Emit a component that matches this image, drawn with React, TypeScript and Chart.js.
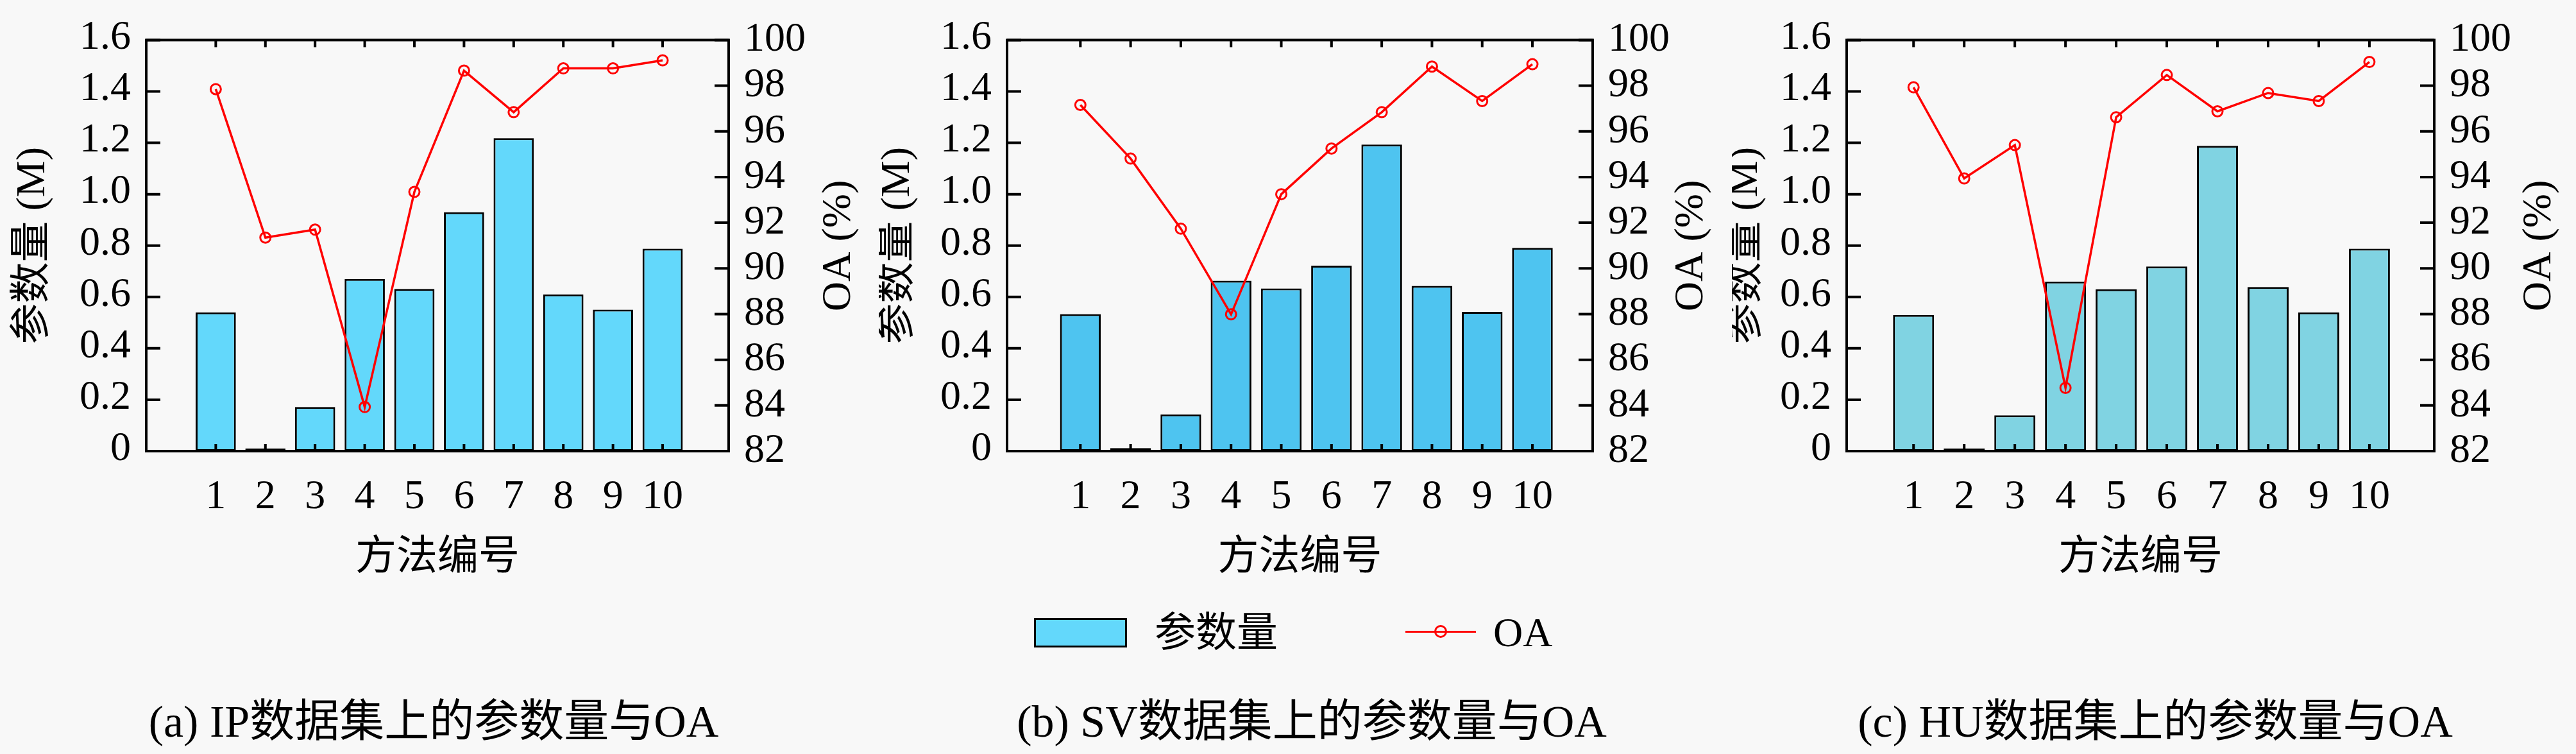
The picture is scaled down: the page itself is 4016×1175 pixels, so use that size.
import React, { useEffect, useRef } from 'react';
import { Chart, registerables } from 'chart.js';

Chart.register(...registerables);

// ---------------- data ----------------
const methods = [1, 2, 3, 4, 5, 6, 7, 8, 9, 10];
const methodLabels = ['1', '2', '3', '4', '5', '6', '7', '8', '9', '10'];

const paramsIP = [0.54, 0.01, 0.172, 0.67, 0.631, 0.93, 1.218, 0.61, 0.551, 0.788];
const oaIP = [97.85, 91.35, 91.7, 83.93, 93.35, 98.66, 96.84, 98.76, 98.76, 99.11];

const paramsSV = [0.533, 0.012, 0.143, 0.663, 0.633, 0.722, 1.193, 0.643, 0.542, 0.791];
const oaSV = [97.16, 94.81, 91.74, 87.99, 93.25, 95.25, 96.84, 98.84, 97.33, 98.94];

const paramsHU = [0.53, 0.01, 0.139, 0.66, 0.63, 0.719, 1.188, 0.639, 0.54, 0.788];
const oaHU = [97.93, 93.94, 95.4, 84.77, 96.62, 98.47, 96.88, 97.68, 97.33, 99.04];

const leftTicks = [0, 0.2, 0.4, 0.6, 0.8, 1.0, 1.2, 1.4, 1.6];
const leftTickLabels = ['0', '0.2', '0.4', '0.6', '0.8', '1.0', '1.2', '1.4', '1.6'];
const rightTicks = [82, 84, 86, 88, 90, 92, 94, 96, 98, 100];
const rightTickLabels = ['82', '84', '86', '88', '90', '92', '94', '96', '98', '100'];

const barLabel = '参数量';
const lineLabel = 'OA';
const leftTitle = '参数量 (M)';
const rightTitle = 'OA (%)';
const xTitle = '方法编号';
const captions = [
  '(a) IP数据集上的参数量与OA',
  '(b) SV数据集上的参数量与OA',
  '(c) HU数据集上的参数量与OA',
];

// ---------------- style / layout ----------------
const FONT = '"Liberation Serif", "Noto Sans CJK SC", serif';
const BG = '#f8f8f8';
const CANVAS_H = 940;
const PLOT_TOP = 53;
const PLOT_BOTTOM = 703;

const panels = [
  { canvasLeft: 0, canvasWidth: 1370, plotLeft: 228, plotRight: 1136, xMin: -0.4, xMax: 11.33, color: '#63d8fb', offL: 176, offR: 172, params: paramsIP, oa: oaIP },
  { canvasLeft: 1370, canvasWidth: 1330, plotLeft: 1570, plotRight: 2483, xMin: -0.46, xMax: 11.2, color: '#4ec4f0', offL: 170, offR: 154, params: paramsSV, oa: oaSV },
  { canvasLeft: 2700, canvasWidth: 1316, plotLeft: 2879, plotRight: 3795, xMin: -0.32, xMax: 11.28, color: '#80d3e2', offL: 157, offR: 164, params: paramsHU, oa: oaHU },
];

const captionCenters = [676, 2045, 3360];

const framePlugin = {
  id: 'frame',
  afterDraw(chart: any, _args: any, opts: any) {
    const { ctx, chartArea: a, scales } = chart;
    ctx.save();
    ctx.strokeStyle = '#000';
    ctx.lineWidth = 4;
    ctx.lineCap = 'butt';
    ctx.beginPath();
    scales.y.ticks.forEach((t: any) => {
      const p = scales.y.getPixelForValue(t.value);
      ctx.moveTo(a.left, p);
      ctx.lineTo(a.left + 22, p);
    });
    scales.y2.ticks.forEach((t: any) => {
      const p = scales.y2.getPixelForValue(t.value);
      ctx.moveTo(a.right, p);
      ctx.lineTo(a.right - 22, p);
    });
    scales.x.ticks.forEach((t: any) => {
      const p = scales.x.getPixelForValue(t.value);
      ctx.moveTo(p, a.top);
      ctx.lineTo(p, a.top + 11);
      ctx.moveTo(p, a.bottom);
      ctx.lineTo(p, a.bottom - 11);
    });
    ctx.stroke();
    ctx.strokeRect(a.left, a.top, a.right - a.left, a.bottom - a.top);

    ctx.fillStyle = '#000';
    ctx.font = `64px ${FONT}`;
    ctx.textAlign = 'center';
    ctx.textBaseline = 'middle';
    const cy = (a.top + a.bottom) / 2;
    const rot = (text: string, x: number, y: number) => {
      ctx.save();
      ctx.translate(x, y);
      ctx.rotate(-Math.PI / 2);
      ctx.fillText(text, 0, 0);
      ctx.restore();
    };
    rot(opts.leftTitle, a.left - opts.offL, cy);
    rot(opts.rightTitle, a.right + opts.offR, cy);
    ctx.fillText(opts.xTitle, (a.left + a.right) / 2, 870);
    ctx.restore();
  },
};

function Panel({ p }: { p: (typeof panels)[number] }) {
  const ref = useRef<HTMLCanvasElement | null>(null);
  useEffect(() => {
    if (!ref.current) return;
    const tickFont = { family: FONT, size: 64 };
    const chart = new Chart(ref.current, {
      type: 'bar',
      data: {
        datasets: [
          {
            type: 'line',
            label: lineLabel,
            data: methods.map((m, i) => ({ x: m, y: p.oa[i] })),
            yAxisID: 'y2',
            xAxisID: 'x',
            borderColor: '#ff0000',
            borderWidth: 3.5,
            pointStyle: 'circle',
            pointRadius: 8,
            pointBorderWidth: 3,
            pointBorderColor: '#ff0000',
            pointBackgroundColor: 'rgba(0,0,0,0)',
            tension: 0,
            order: 0,
          } as any,
          {
            type: 'bar',
            label: barLabel,
            data: methods.map((m, i) => ({ x: m, y: p.params[i] })),
            yAxisID: 'y',
            xAxisID: 'x',
            backgroundColor: p.color,
            borderColor: '#000',
            borderWidth: 3,
            borderSkipped: false,
            barPercentage: 0.81,
            categoryPercentage: 1,
            order: 1,
          } as any,
        ],
      },
      options: {
        animation: false,
        responsive: false,
        devicePixelRatio: 1,
        layout: { padding: { top: PLOT_TOP, left: 0, right: 0, bottom: 0 } },
        plugins: {
          legend: { display: false },
          tooltip: { enabled: false },
          frame: { leftTitle, rightTitle, xTitle, offL: p.offL, offR: p.offR },
        } as any,
        scales: {
          x: {
            type: 'linear',
            min: p.xMin,
            max: p.xMax,
            offset: false,
            grid: { display: false, drawTicks: false },
            border: { display: false },
            afterBuildTicks: (s: any) => {
              s.ticks = methods.map((v) => ({ value: v }));
            },
            ticks: {
              font: tickFont,
              color: '#000',
              padding: 34,
              maxRotation: 0,
              autoSkip: false,
              callback: (v: any) => methodLabels[methods.indexOf(Number(v))] ?? '',
            },
            afterFit: (s: any) => {
              s.height = CANVAS_H - PLOT_BOTTOM;
            },
          },
          y: {
            type: 'linear',
            position: 'left',
            min: 0,
            max: 1.6,
            grid: { display: false, drawTicks: false },
            border: { display: false },
            afterBuildTicks: (s: any) => {
              s.ticks = leftTicks.map((v) => ({ value: v }));
            },
            ticks: {
              font: tickFont,
              color: '#000',
              padding: 24,
              labelOffset: -3,
              autoSkip: false,
              callback: (v: any) => {
                const i = leftTicks.findIndex((t) => Math.abs(t - Number(v)) < 1e-6);
                return i >= 0 ? leftTickLabels[i] : '';
              },
            },
            afterFit: (s: any) => {
              s.width = p.plotLeft - p.canvasLeft;
            },
          },
          y2: {
            type: 'linear',
            position: 'right',
            min: 82,
            max: 100,
            grid: { display: false, drawTicks: false },
            border: { display: false },
            afterBuildTicks: (s: any) => {
              s.ticks = rightTicks.map((v) => ({ value: v }));
            },
            ticks: {
              font: tickFont,
              color: '#000',
              padding: 24,
              autoSkip: false,
              callback: (v: any) => {
                const i = rightTicks.indexOf(Number(v));
                return i >= 0 ? rightTickLabels[i] : '';
              },
            },
            afterFit: (s: any) => {
              s.width = p.canvasLeft + p.canvasWidth - p.plotRight;
            },
          },
        },
      } as any,
      plugins: [framePlugin as any],
    });
    return () => chart.destroy();
  }, [p]);
  return (
    <canvas
      ref={ref}
      width={p.canvasWidth}
      height={CANVAS_H}
      style={{ position: 'absolute', left: p.canvasLeft, top: 0, width: p.canvasWidth, height: CANVAS_H }}
    />
  );
}

export default function App() {
  const textStyle: React.CSSProperties = {
    position: 'absolute',
    fontFamily: FONT,
    color: '#000',
    whiteSpace: 'nowrap',
  };
  return (
    <div style={{ position: 'absolute', left: 0, top: 0, width: 4016, height: 1175, background: BG, overflow: 'hidden' }}>
      {panels.map((p, i) => (
        <Panel key={i} p={p} />
      ))}
      {/* legend */}
      <div
        style={{
          position: 'absolute',
          left: 1612,
          top: 963,
          width: 145,
          height: 46,
          boxSizing: 'border-box',
          border: '3px solid #000',
          background: panels[0].color,
        }}
      />
      <div style={{ ...textStyle, left: 1800, top: 946, fontSize: 64, lineHeight: '80px' }}>{barLabel}</div>
      <div style={{ position: 'absolute', left: 2191, top: 983, width: 110, height: 3, background: '#ff0000' }} />
      <div
        style={{
          position: 'absolute',
          left: 2236,
          top: 974,
          width: 20,
          height: 20,
          boxSizing: 'border-box',
          border: '3px solid #ff0000',
          borderRadius: '50%',
        }}
      />
      <div style={{ ...textStyle, left: 2328, top: 946, fontSize: 64, lineHeight: '80px' }}>{lineLabel}</div>
      {/* captions */}
      {captions.map((c, i) => (
        <div
          key={i}
          style={{
            ...textStyle,
            left: captionCenters[i] - 700,
            width: 1400,
            textAlign: 'center',
            top: 1083,
            fontSize: 70,
            lineHeight: '84px',
          }}
        >
          {c}
        </div>
      ))}
    </div>
  );
}
